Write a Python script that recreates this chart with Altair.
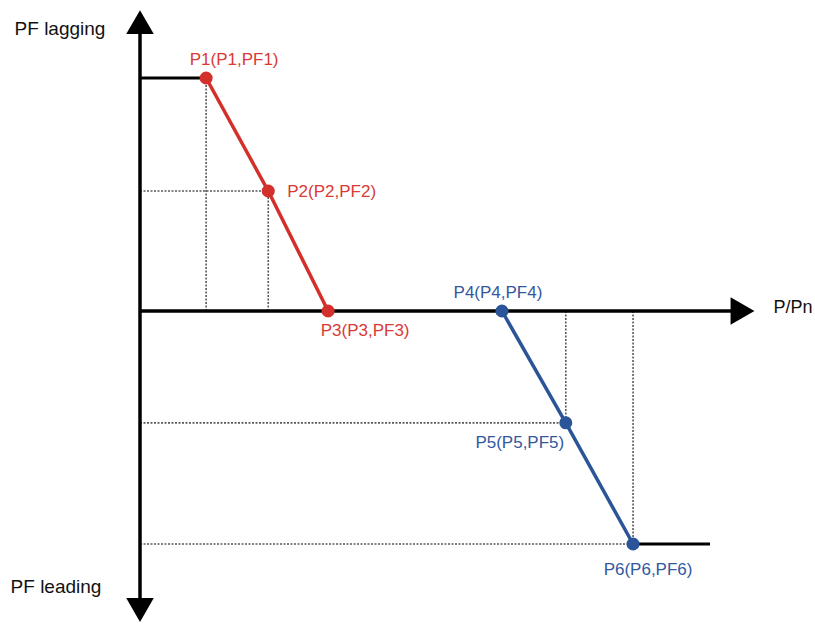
import altair as alt
import pandas as pd

# ---- data (P/Pn on x, PF on y; lagging positive, leading negative) ----
point_names = ["P1", "P2", "P3", "P4", "P5", "P6"]
p_values = [0.116, 0.225, 0.33, 0.635, 0.747, 0.865]
pf_values = [1.0, 0.515, 0.0, 0.0, -0.48, -1.0]
point_labels = ["P1(P1,PF1)", "P2(P2,PF2)", "P3(P3,PF3)",
                "P4(P4,PF4)", "P5(P5,PF5)", "P6(P6,PF6)"]
curve_group = ["lagging", "lagging", "lagging", "leading", "leading", "leading"]

p_axis_end = 1.057      # tip of P/Pn arrow
pf_axis_top = 1.24      # tip of PF lagging arrow
pf_axis_bottom = -1.283 # tip of PF leading arrow
p_flat_end = 1.0        # end of the flat segment after P6
axis_titles = ["PF lagging", "PF leading", "P/Pn"]

RED = "#d3302b"
BLUE = "#2b5598"
RED_T = "#d93a33"
BLUE_T = "#33589e"
FONT = "Liberation Sans"

pts = pd.DataFrame({"name": point_names, "p": p_values, "pf": pf_values,
                    "label": point_labels, "group": curve_group})
pts["zero"] = 0.0

xs = alt.Scale(domain=[-140 / 570, 675 / 570], nice=False, zero=False)
ys = alt.Scale(domain=[-318 / 233, 311 / 233], nice=False, zero=False)

def X(f, **kw):
    return alt.X(f, type="quantitative", scale=xs, axis=None, **kw)

def Y(f, **kw):
    return alt.Y(f, type="quantitative", scale=ys, axis=None, **kw)

base = alt.Chart(pts)

# dotted guides
GUIDE = dict(color="#5a5a5a", strokeDash=[2, 1.5], strokeWidth=1.6)
vguides = base.transform_filter(
    alt.FieldOneOfPredicate(field="name", oneOf=["P1", "P2", "P5", "P6"])
).mark_rule(**GUIDE).encode(x=X("p"), y=Y("zero"), y2="pf")
hguides = base.transform_filter(
    alt.FieldOneOfPredicate(field="name", oneOf=["P2", "P5", "P6"])
).mark_rule(**GUIDE).encode(x=X("zero"), x2="p", y=Y("pf"))

# flat segments
flat = pd.DataFrame({"x1": [0.0, p_values[5]], "x2": [p_values[0], p_flat_end],
                     "y": [pf_values[0], pf_values[5]]})
flats = alt.Chart(flat).mark_rule(color="black", strokeWidth=3.2).encode(
    x=X("x1"), x2="x2", y=Y("y"))

# axes
axes_df = pd.DataFrame({"x1": [0.0, 0.0], "x2": [0.0, p_axis_end - 0.02],
                        "y1": [pf_axis_top - 0.05, 0.0],
                        "y2": [pf_axis_bottom + 0.05, 0.0]})
axes = alt.Chart(axes_df).mark_rule(color="black", strokeWidth=3.5).encode(
    x=X("x1"), x2="x2", y=Y("y1"), y2="y2")

arrows_df = pd.DataFrame({"x": [0.0, 0.0, p_axis_end],
                          "y": [pf_axis_top, pf_axis_bottom, 0.0],
                          "shape": ["triangle-up", "triangle-down", "triangle-right"]})
arrows = alt.Chart(arrows_df).mark_point(filled=True, color="black", opacity=1,
                                          size=760, strokeWidth=0).encode(
    x=X("x"), y=Y("y"), shape=alt.Shape("shape:N", scale=None))

# curves
color_scale = alt.Scale(domain=["lagging", "leading"], range=[RED, BLUE])
lines = base.mark_line(strokeWidth=3.5).encode(
    x=X("p"), y=Y("pf"), detail="group:N",
    color=alt.Color("group:N", scale=color_scale, legend=None))
dots = base.mark_circle(size=170, opacity=1).encode(
    x=X("p"), y=Y("pf"),
    color=alt.Color("group:N", scale=color_scale, legend=None))

# point labels
offsets = {"P1": (28, -18, "center"), "P2": (19, 1, "left"), "P3": (37, 20, "center"),
           "P4": (-4, -18, "center"), "P5": (-46, 20, "center"), "P6": (15, 26, "center")}
labels = []
for n, (dx, dy, al) in offsets.items():
    col = RED_T if n in ("P1", "P2", "P3") else BLUE_T
    labels.append(
        base.transform_filter(alt.datum.name == n).mark_text(
            dx=dx, dy=dy, align=al, baseline="middle", font=FONT, fontSize=17,
            color=col).encode(x=X("p"), y=Y("pf"), text="label:N"))

# axis titles
t_df = pd.DataFrame({"x": [0.0, 0.0, p_axis_end], "y": [pf_axis_top, pf_axis_bottom, 0.0],
                     "t": axis_titles})
tbase = alt.Chart(t_df)
titles = [
    tbase.transform_filter(alt.datum.t == axis_titles[0]).mark_text(
        dx=-80, dy=7, align="center", baseline="middle", font=FONT, fontSize=19,
        color="#111111").encode(x=X("x"), y=Y("y"), text="t:N"),
    tbase.transform_filter(alt.datum.t == axis_titles[1]).mark_text(
        dx=-84, dy=-23, align="center", baseline="middle", font=FONT, fontSize=19,
        color="#111111").encode(x=X("x"), y=Y("y"), text="t:N"),
    tbase.transform_filter(alt.datum.t == axis_titles[2]).mark_text(
        dx=31, dy=-3, align="left", baseline="middle", font=FONT, fontSize=18,
        color="#111111").encode(x=X("x"), y=Y("y"), text="t:N"),
]

chart = alt.layer(vguides, hguides, flats, axes, lines, dots, arrows, *labels, *titles).properties(
    width=815, height=629, padding=0, autosize=alt.AutoSizeParams(type="none"),
    background="white"
).configure_view(stroke=None)

chart.save("out.html", embed_options={"renderer": "svg", "actions": False})
